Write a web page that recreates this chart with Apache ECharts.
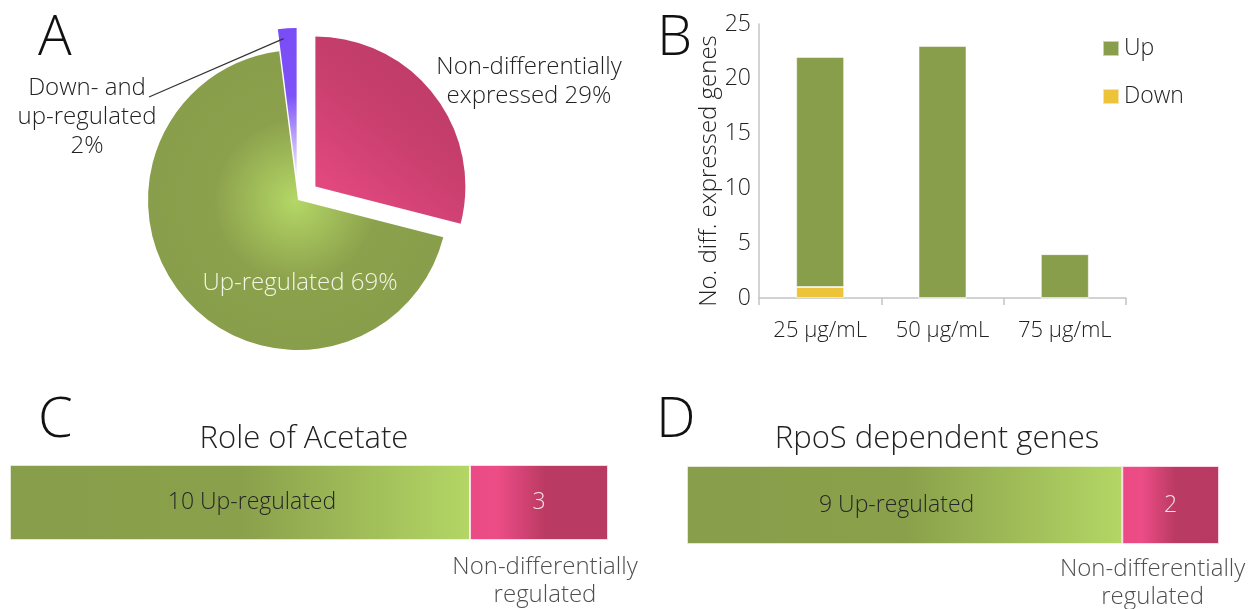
<!DOCTYPE html>
<html>
<head>
<meta charset="utf-8">
<script src="https://cdn.jsdelivr.net/npm/echarts@6/dist/echarts.min.js"></script>
<style>
  html, body { margin: 0; padding: 0; background: #ffffff; }
  #chart { width: 1255px; height: 609px; }
</style>
</head>
<body>
<div id="chart"></div>
<script>
// Panel A: share of genes per expression class (%)
const pieNames = ['Non-differentially\nexpressed', 'Up-regulated', 'Down- and\nup-regulated'];
const pieValues = [29, 69, 2];

// Panel B: differentially expressed genes per concentration
const concentrations = ['25 µg/mL', '50 µg/mL', '75 µg/mL'];
const downCounts = [1, 0, 0];
const upCounts = [21, 23, 4];
const countTicks = [0, 5, 10, 15, 20, 25];

// Panel C: role of acetate
const acetateUp = 10;
const acetateNon = 3;

// Panel D: RpoS dependent genes
const rposUp = 9;
const rposNon = 2;

const FONT = '"Open Sans", Lato, sans-serif';
const W = 300;
const TXT = '#222222';
const OLIVE = '#889e4a';
const YELLOW = '#edc33a';

const G = echarts.graphic;

// pie geometry
const PIE_CENTER = [298, 200];
const PIE_R = 150;
const PIE_PULL = 22;

// fills
const greenRadial = new G.RadialGradient(0.5, 0.5, 0.5, [
  { offset: 0, color: '#b4d766' },
  { offset: 0.55, color: '#8ca14c' },
  { offset: 1, color: '#889e4a' }
]);
const pinkDiag = new G.LinearGradient(0, 1, 1, 0, [
  { offset: 0, color: '#ec4c86' },
  { offset: 0.5, color: '#c93f6e' },
  { offset: 1, color: '#b83a62' }
]);
const blueFade = new G.LinearGradient(0, 0, 0, 1, [
  { offset: 0, color: '#7a4cf7' },
  { offset: 0.45, color: '#7d52f6' },
  { offset: 1, color: '#f6f2ff' }
]);
function greenBar() {
  return new G.LinearGradient(0, 0, 1, 0, [
    { offset: 0, color: '#889e4a' },
    { offset: 0.5, color: '#8aa04b' },
    { offset: 1, color: '#b3d665' }
  ]);
}
function pinkBar() {
  return new G.LinearGradient(0, 0, 1, 0, [
    { offset: 0, color: '#ea4b84' },
    { offset: 0.2, color: '#ec4d86' },
    { offset: 0.55, color: '#ba3a63' },
    { offset: 1, color: '#b83a62' }
  ]);
}

const pieFills = [pinkDiag, greenRadial, blueFade];
const pieSelected = [true, false, true];

// where each pie label block is centred
const pieLabelSpots = [
  { x: 529, y: 82 },
  { x: 300, y: 283 },
  { x: 87, y: 117 }
];
const pieLabelColors = [TXT, '#f2f5e6', TXT];

// leader line from the small slice to its label, derived from the slice angle
const total = pieValues.reduce((a, b) => a + b, 0);
const sliceStart = pieValues.slice(0, 2).reduce((a, b) => a + b, 0);
const midDeg = 90 - 360 * (sliceStart + pieValues[2] / 2) / total;
const mid = midDeg * Math.PI / 180;
const smallCx = PIE_CENTER[0] + PIE_PULL * Math.cos(mid);
const smallCy = PIE_CENTER[1] - PIE_PULL * Math.sin(mid);
const leadStart = [smallCx + (PIE_R - 10) * Math.cos(mid + 0.03), smallCy - (PIE_R - 10) * Math.sin(mid + 0.03)];
const leadEnd = [pieLabelSpots[2].x + 62, pieLabelSpots[2].y - 20];

const barLabel = (color) => ({
  show: true,
  position: 'inside',
  fontFamily: FONT,
  fontWeight: W,
  fontSize: 23,
  color: color
});

const chart = echarts.init(document.getElementById('chart'));

const letter = (t, x, y) => ({
  text: t, left: x, top: y,
  textStyle: { fontFamily: FONT, fontSize: 56, fontWeight: W, color: '#111' }
});

const option = {
  backgroundColor: '#ffffff',
  animation: false,
  textStyle: { fontFamily: FONT },
  title: [
    letter('A', 33, 6),
    letter('B', 652, 6),
    letter('C', 33, 388),
    letter('D', 651, 388),
    { text: 'Role of Acetate', left: 299, top: 419, textAlign: 'center',
      textStyle: { fontFamily: FONT, fontSize: 31, fontWeight: W, color: TXT } },
    { text: 'RpoS dependent genes', left: 932, top: 419, textAlign: 'center',
      textStyle: { fontFamily: FONT, fontSize: 31, fontWeight: W, color: TXT } }
  ],
  legend: {
    data: ['Up', 'Down'],
    orient: 'vertical',
    left: 1097,
    top: 32,
    icon: 'rect',
    itemWidth: 16,
    itemHeight: 15,
    itemGap: 25,
    selectedMode: false,
    textStyle: { fontFamily: FONT, fontWeight: W, fontSize: 23, color: TXT }
  },
  grid: [
    { left: 759, top: 24, width: 367, height: 274 },
    { left: 10, top: 465, width: 598, height: 75 },
    { left: 687, top: 466, width: 532, height: 78 }
  ],
  xAxis: [
    {
      gridIndex: 0,
      type: 'category',
      data: concentrations,
      axisLine: { lineStyle: { color: '#c4c4c4', width: 1.5 } },
      axisTick: { show: true, length: 7, lineStyle: { color: '#c4c4c4', width: 1.5 } },
      axisLabel: { fontFamily: FONT, fontWeight: W, fontSize: 22, color: TXT, margin: 22 }
    },
    { gridIndex: 1, type: 'value', min: 0, max: acetateUp + acetateNon, show: false },
    { gridIndex: 2, type: 'value', min: 0, max: rposUp + rposNon, show: false }
  ],
  yAxis: [
    {
      gridIndex: 0,
      type: 'value',
      min: countTicks[0],
      max: countTicks[countTicks.length - 1],
      interval: countTicks[1] - countTicks[0],
      name: 'No. diff. expressed genes',
      nameLocation: 'middle',
      nameGap: 36,
      nameTextStyle: { fontFamily: FONT, fontWeight: W, fontSize: 24, color: TXT, padding: [0, 20, 0, 0] },
      axisLine: { show: true, lineStyle: { color: '#c4c4c4', width: 1.5 } },
      axisTick: { show: false },
      splitLine: { show: false },
      axisLabel: { fontFamily: FONT, fontWeight: W, fontSize: 23, color: TXT, margin: 8 }
    },
    { gridIndex: 1, type: 'category', data: ['Role of Acetate'], show: false },
    { gridIndex: 2, type: 'category', data: ['RpoS dependent genes'], show: false }
  ],
  graphic: [
    {
      type: 'line',
      shape: { x1: leadEnd[0], y1: leadEnd[1], x2: leadStart[0], y2: leadStart[1] },
      style: { stroke: '#333', lineWidth: 1.2 },
      z: 10
    }
  ],
  series: [
    // slices
    {
      type: 'pie',
      center: PIE_CENTER,
      radius: PIE_R,
      startAngle: 90,
      clockwise: true,
      selectedMode: 'multiple',
      selectedOffset: PIE_PULL,
      emphasis: { disabled: true },
      label: { show: false },
      labelLine: { show: false },
      data: pieNames.map((n, i) => ({
        name: n,
        value: pieValues[i],
        selected: pieSelected[i],
        itemStyle: { color: pieFills[i] }
      }))
    },
    // slice captions
    {
      type: 'pie',
      center: PIE_CENTER,
      radius: PIE_R,
      startAngle: 90,
      clockwise: true,
      silent: true,
      selectedMode: false,
      avoidLabelOverlap: false,
      emphasis: { disabled: true },
      itemStyle: { color: 'rgba(0,0,0,0)' },
      label: {
        show: true,
        position: 'inside',
        fontFamily: FONT,
        fontWeight: W,
        fontSize: 24,
        lineHeight: 29,
        align: 'center',
        formatter: (p) => p.dataIndex === 2 ? `${p.name}\n${p.percent}%` : `${p.name} ${p.percent}%`
      },
      labelLine: { show: false },
      labelLayout: (p) => ({
        x: pieLabelSpots[p.dataIndex].x,
        y: pieLabelSpots[p.dataIndex].y,
        align: 'center',
        verticalAlign: 'middle'
      }),
      data: pieNames.map((n, i) => ({
        name: n,
        value: pieValues[i],
        label: { color: pieLabelColors[i] }
      }))
    },
    {
      name: 'Down',
      type: 'bar',
      xAxisIndex: 0,
      yAxisIndex: 0,
      stack: 'counts',
      barWidth: 48,
      data: downCounts,
      itemStyle: { color: YELLOW, borderColor: 'rgba(255,255,255,0.55)', borderWidth: 1 },
      emphasis: { disabled: true }
    },
    {
      name: 'Up',
      type: 'bar',
      xAxisIndex: 0,
      yAxisIndex: 0,
      stack: 'counts',
      barWidth: 48,
      data: upCounts,
      itemStyle: { color: OLIVE, borderColor: 'rgba(255,255,255,0.55)', borderWidth: 1 },
      emphasis: { disabled: true }
    },
    // Panel C
    {
      type: 'bar',
      xAxisIndex: 1,
      yAxisIndex: 1,
      stack: 'acetate',
      barWidth: '100%',
      data: [acetateUp],
      itemStyle: { color: greenBar(), borderColor: 'rgba(255,255,255,0.5)', borderWidth: 1 },
      label: Object.assign(barLabel('#262626'), { formatter: '{c} Up-regulated', offset: [12, 0] }),
      emphasis: { disabled: true }
    },
    {
      type: 'bar',
      xAxisIndex: 1,
      yAxisIndex: 1,
      stack: 'acetate',
      barWidth: '100%',
      data: [acetateNon],
      itemStyle: { color: pinkBar(), borderColor: 'rgba(255,220,235,0.9)', borderWidth: 1 },
      label: Object.assign(barLabel('#f6e0e8'), { formatter: '{c}' }),
      emphasis: { disabled: true }
    },
    {
      type: 'scatter',
      xAxisIndex: 1,
      yAxisIndex: 1,
      symbolSize: 0,
      silent: true,
      data: [[acetateUp + acetateNon / 2, 0]],
      label: {
        show: true,
        position: 'inside',
        offset: [6, 79],
        formatter: 'Non-differentially\nregulated',
        fontFamily: FONT,
        fontWeight: W,
        fontSize: 24,
        lineHeight: 28,
        color: TXT,
        align: 'center'
      }
    },
    // Panel D
    {
      type: 'bar',
      xAxisIndex: 2,
      yAxisIndex: 2,
      stack: 'rpos',
      barWidth: '100%',
      data: [rposUp],
      itemStyle: { color: greenBar(), borderColor: 'rgba(255,255,255,0.5)', borderWidth: 1 },
      label: Object.assign(barLabel('#262626'), { formatter: '{c} Up-regulated', offset: [-8, 0] }),
      emphasis: { disabled: true }
    },
    {
      type: 'bar',
      xAxisIndex: 2,
      yAxisIndex: 2,
      stack: 'rpos',
      barWidth: '100%',
      data: [rposNon],
      itemStyle: { color: pinkBar(), borderColor: 'rgba(255,220,235,0.9)', borderWidth: 1 },
      label: Object.assign(barLabel('#f6e0e8'), { formatter: '{c}' }),
      emphasis: { disabled: true }
    },
    {
      type: 'scatter',
      xAxisIndex: 2,
      yAxisIndex: 2,
      symbolSize: 0,
      silent: true,
      data: [[rposUp + rposNon / 2, 0]],
      label: {
        show: true,
        position: 'inside',
        offset: [-18, 78],
        formatter: 'Non-differentially\nregulated',
        fontFamily: FONT,
        fontWeight: W,
        fontSize: 24,
        lineHeight: 28,
        color: TXT,
        align: 'center'
      }
    }
  ]
};

chart.setOption(option);
</script>
</body>
</html>
